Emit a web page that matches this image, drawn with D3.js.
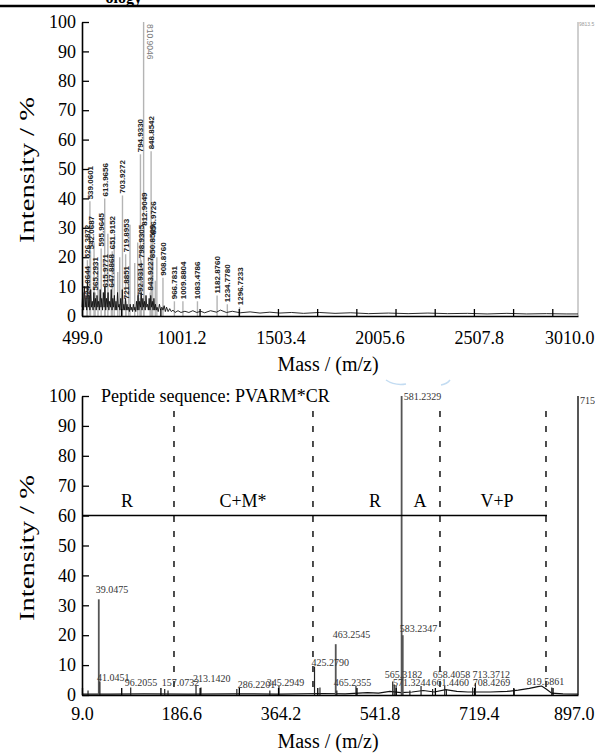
<!DOCTYPE html>
<html>
<head>
<meta charset="utf-8">
<script src="https://cdn.jsdelivr.net/npm/d3@7"></script>
<style>
body { margin: 0; background: #fff; }
svg { display: block; }
</style>
</head>
<body>
<svg id="chart" width="595" height="755"></svg>
<script>
// ---------- data ----------
const yTicks = [0, 10, 20, 30, 40, 50, 60, 70, 80, 90, 100];

// top: MS spectrum
const topTicks = [499.0, 1001.2, 1503.4, 2005.6, 2507.8, 3010.0];
const topCount = "9813.5";
// labelled peaks [m/z, intensity %]
const topLabeled = [
  [524.0644, 5], [526.3872, 19], [539.0601, 39], [542.0687, 22], [565.2931, 8],
  [595.9645, 23], [613.9656, 40], [615.9771, 9], [647.8868, 9], [651.9152, 22],
  [703.9272, 41], [719.8953, 21], [721.8851, 5], [792.9314, 6], [794.9330, 55],
  [798.9305, 19], [810.9046, 100], [812.9049, 30], [843.9227, 8], [848.8542, 56],
  [850.8509, 19], [856.9726, 27], [908.8760, 13], [966.7831, 5], [1009.8804, 5],
  [1083.4786, 5], [1182.8760, 7], [1234.7780, 4], [1296.7233, 3]
];
// unlabelled grey peaks
const topOther = [
  [560, 25], [580, 18], [630, 28], [662, 26], [680, 15], [690, 20],
  [735, 14], [741.9, 31], [766, 18], [781, 25], [870, 12], [878, 20]
];
// dark chemical-noise trace near the baseline
const topNoise = [
  [499, 3], [503, 8], [507, 2], [511, 10], [515, 3], [519, 6], [523, 2], [527, 12], [531, 3],
  [535, 7], [539, 2], [543, 9], [547, 3], [551, 5], [555, 2], [559, 8], [563, 3], [567, 6],
  [571, 2], [575, 7], [579, 3], [583, 5], [587, 2], [591, 9], [595, 3], [599, 6], [603, 2],
  [607, 8], [611, 3], [615, 10], [619, 2], [623, 6], [627, 3], [631, 8], [635, 2], [639, 5],
  [643, 3], [647, 9], [651, 2], [655, 6], [659, 3], [663, 7], [667, 2], [671, 5], [675, 2],
  [679, 8], [683, 3], [687, 4], [691, 2], [695, 6], [699, 2], [703, 9], [707, 2], [711, 4],
  [715, 2], [719, 6], [723, 2], [727, 4], [731, 2], [735, 3], [739, 1.5], [743, 4], [747, 2],
  [751, 3], [755, 1.5], [759, 4], [763, 2], [767, 3], [771, 1.5], [775, 5], [779, 2], [783, 7],
  [787, 2], [791, 5], [795, 3], [799, 8], [803, 2], [807, 6], [811, 3], [815, 5], [819, 2],
  [823, 7], [827, 3], [831, 4], [835, 2], [839, 6], [843, 2], [847, 7], [851, 3], [855, 5],
  [859, 2], [863, 6], [867, 2], [871, 4], [875, 2], [879, 3], [885, 1.5], [891, 4], [897, 2],
  [903, 3], [909, 2], [915, 3.5], [921, 1.5], [927, 3], [935, 1.5], [943, 2.5], [951, 1.5],
  [960, 2], [970, 1.2], [985, 1.8], [1000, 1.2], [1020, 1.6], [1040, 1.2], [1060, 1.8],
  [1080, 1.2], [1100, 1.6], [1120, 1.1], [1150, 1.8], [1180, 1.3], [1200, 2], [1230, 1.2],
  [1260, 1.6], [1300, 1.1], [1350, 1.4], [1400, 1.0], [1450, 1.3], [1500, 1.0], [1560, 1.2],
  [1620, 0.9], [1700, 1.2], [1780, 0.9], [1860, 1.1], [1950, 0.8], [2050, 1.0], [2150, 0.8],
  [2250, 1.0], [2350, 0.8], [2450, 0.9], [2550, 0.7], [2650, 0.9], [2750, 0.7], [2850, 0.8],
  [2950, 0.7], [3010, 0.7]
];

// bottom: MS/MS spectrum
const botTicks = [9.0, 186.6, 364.2, 541.8, 719.4, 897.0];
const botCount = "715";
const sequence = "Peptide sequence: PVARM*CR";
const botPeaks = [
  [19.8, 1.5], [39.0475, 32], [41.0451, 4.5], [96.2055, 2.5], [157.0732, 2], [163, 1.5],
  [213.1420, 3], [222, 2.5], [286.2201, 2], [345.2949, 1.5], [361.6, 3], [425.2790, 9.5],
  [435, 2.5], [463.2545, 17], [465.2355, 1.5], [499.5, 3], [565.3182, 4.5], [568, 3.5],
  [571.3244, 3], [581.2329, 100], [583.2347, 20], [596, 1.5], [616, 3], [636.7, 2],
  [658.4058, 3], [661.4460, 2], [708.4269, 2.5], [713.3712, 4], [782.7, 2], [850, 2.5]
];
// [m/z, height of the label baseline in %]
const botLabels = [
  [39.0475, 34], [41.0451, 4.8], [96.2055, 3], [157.0732, 3], [213.1420, 4.3],
  [286.2201, 2.3], [345.2949, 3], [425.2790, 9.7], [463.2545, 19], [465.2355, 3],
  [565.3182, 5.7], [571.3244, 3], [581.2329, 98.7], [583.2347, 21], [658.4058, 5.7],
  [661.4460, 3], [708.4269, 3], [713.3712, 5.7], [819.5861, 3.3]
];
const botBaseline = [
  [9, 0.3], [60, 0.3], [120, 0.4], [200, 0.3], [280, 0.4], [360, 0.3], [440, 0.5], [480, 0.4],
  [520, 0.8], [540, 0.6], [560, 1.2], [580, 0.8], [600, 1.0], [620, 1.5], [640, 1.0],
  [660, 1.8], [680, 1.2], [700, 1.0], [740, 1.0], [770, 1.2], [790, 1.6], [810, 2.2],
  [825, 2.8], [832, 3.0], [840, 2.0], [850, 0.6], [870, 0.4], [897, 0.3]
];
const cutSites = [173.7, 422.5, 649.9, 839.7];
const residues = ["R", "C+M*", "R", "A", "V+P"];
const residueAt = [89.6, 297.2, 533.5, 614, 752];

// ---------- drawing ----------
const SERIF = '"Liberation Serif","Times New Roman",serif';
const SANS = '"Liberation Sans",Arial,sans-serif';
const svg = d3.select("#chart");

// journal header remnant
svg.append("text").attr("x", 142).attr("y", 3).attr("text-anchor", "end")
  .attr("font-family", SERIF).attr("font-weight", "bold").attr("font-size", 16).text("ology");
svg.append("line").attr("x1", 0).attr("x2", 595).attr("y1", 6).attr("y2", 6)
  .attr("stroke", "#000").attr("stroke-width", 2.5);

function axes(x, y, tickVals, minorVals, labelPad, titleY, titleMid) {
  const y0 = y.range()[0];
  const left = x.range()[0];

  const ya = svg.append("g").attr("transform", `translate(${left},0)`)
    .call(d3.axisLeft(y).tickValues(yTicks).tickSizeInner(-7).tickSizeOuter(0).tickPadding(6));
  const xa = svg.append("g").attr("transform", `translate(0,${y0})`)
    .call(d3.axisBottom(x).tickValues(tickVals).tickFormat(d3.format(".1f"))
      .tickSize(0).tickPadding(labelPad));
  const xm = svg.append("g").attr("transform", `translate(0,${y0})`)
    .call(d3.axisBottom(x).tickValues(minorVals).tickFormat("").tickSizeInner(-7).tickSizeOuter(0))
    .call(g => g.select(".domain").remove());

  [ya, xa, xm].forEach(g => {
    g.attr("font-family", SERIF).attr("font-size", 18);
    g.selectAll("text").attr("fill", "#000");
    g.selectAll("line").attr("stroke", "#000").attr("stroke-width", 1.3);
    g.select(".domain").attr("stroke", "#000").attr("stroke-width", 1.6);
  });
  // last label sits flush with the page edge
  xa.selectAll(".tick").filter((d, i, n) => i === n.length - 1).select("text")
    .attr("text-anchor", "end").attr("x", 594 - x.range()[1]);

  svg.append("text").attr("x", 328).attr("y", titleY).attr("text-anchor", "middle")
    .attr("font-family", SERIF).attr("font-size", 20).text("Mass / (m/z)");
  svg.append("text").attr("transform", `translate(34,${titleMid}) rotate(-90)`)
    .attr("text-anchor", "middle").attr("font-family", SERIF).attr("font-size", 20)
    .attr("textLength", 146).attr("lengthAdjust", "spacingAndGlyphs").text("Intensity / %");
}

// ---- top panel
const xT = d3.scaleLinear().domain([499, 3010]).range([82, 578]);
const yT = d3.scaleLinear().domain([0, 100]).range([316, 22]);

svg.append("line").attr("x1", xT(3010)).attr("x2", xT(3010)).attr("y1", yT(0)).attr("y2", yT(100))
  .attr("stroke", "#cfcfcf").attr("stroke-width", 2);

svg.append("g").selectAll("line").data(topOther.concat(topLabeled)).join("line")
  .attr("x1", d => xT(d[0])).attr("x2", d => xT(d[0]))
  .attr("y1", yT(0)).attr("y2", d => yT(d[1]))
  .attr("stroke", "#b4b4b4").attr("stroke-width", 1.4);

svg.append("path").datum(topNoise)
  .attr("d", d3.line().x(d => xT(d[0])).y(d => yT(d[1])))
  .attr("fill", "none").attr("stroke", "#111").attr("stroke-width", 0.9);

axes(xT, yT, topTicks, d3.range(499, 3000, 198.4), 15, 371, 170);

svg.append("g").selectAll("text").data(topLabeled).join("text")
  .attr("transform", d => d[1] >= 90
    ? `translate(${xT(d[0]) + 3},${yT(d[1]) + 2}) rotate(90)`
    : `translate(${xT(d[0]) + 3},${yT(d[1]) - 2}) rotate(-90)`)
  .attr("font-family", SANS).attr("font-size", d => d[1] >= 90 ? 8.5 : 8)
  .attr("font-weight", d => d[1] >= 90 ? "normal" : "bold")
  .attr("fill", d => d[1] >= 90 ? "#7a7a7a" : "#222")
  .text(d => d[0].toFixed(4));

svg.append("text").attr("x", xT(3010) + 1).attr("y", yT(100) + 4)
  .attr("font-family", SANS).attr("font-size", 5).attr("fill", "#999").text(topCount);

// ---- bottom panel
const xB = d3.scaleLinear().domain([9, 897]).range([82, 578]);
const yB = d3.scaleLinear().domain([0, 100]).range([695, 396]);

svg.append("line").attr("x1", xB(897)).attr("x2", xB(897)).attr("y1", yB(0)).attr("y2", yB(100))
  .attr("stroke", "#444").attr("stroke-width", 1.8);

svg.append("path").datum(botBaseline)
  .attr("d", d3.line().x(d => xB(d[0])).y(d => yB(d[1])))
  .attr("fill", "none").attr("stroke", "#111").attr("stroke-width", 1.2);

svg.append("g").selectAll("line").data(botPeaks).join("line")
  .attr("x1", d => xB(d[0])).attr("x2", d => xB(d[0]))
  .attr("y1", yB(0)).attr("y2", d => yB(d[1]))
  .attr("stroke", d => d[1] >= 15 ? "#555" : "#222")
  .attr("stroke-width", d => d[1] >= 15 ? 1.8 : 1.2);

svg.append("g").selectAll("line").data(cutSites).join("line")
  .attr("x1", d => xB(d)).attr("x2", d => xB(d))
  .attr("y1", yB(95)).attr("y2", yB(1))
  .attr("stroke", "#222").attr("stroke-width", 1.6).attr("stroke-dasharray", "6,9");

svg.append("line").attr("x1", xB(9)).attr("x2", xB(cutSites[cutSites.length - 1]) + 1)
  .attr("y1", yB(60)).attr("y2", yB(60)).attr("stroke", "#000").attr("stroke-width", 1.5);

svg.append("g").selectAll("text").data(residues).join("text")
  .attr("x", (d, i) => xB(residueAt[i])).attr("y", yB(63))
  .attr("text-anchor", "middle").attr("font-family", SERIF).attr("font-size", 18)
  .text(d => d);

svg.append("text").attr("x", xB(9) + 19).attr("y", yB(98))
  .attr("font-family", SERIF).attr("font-size", 18).text(sequence);

axes(xB, yB, botTicks, d3.range(9, 890, 70.2), 12, 748, 548);

const labelShift = { 658.4058: -9, 565.3182: -5, 819.5861: -5, 96.2055: -3, 286.2201: 4,
  661.4460: -12, 708.4269: 3 };
svg.append("g").selectAll("text").data(botLabels).join("text")
  .attr("x", d => xB(d[0]) + (d[1] > 90 ? 2 : -3) + (labelShift[d[0]] || 0))
  .attr("y", d => yB(d[1]))
  .attr("font-family", SERIF).attr("font-size", 10).attr("fill", "#333")
  .text(d => d[0].toFixed(4));

svg.append("text").attr("x", xB(897) + 2).attr("y", yB(100) + 8)
  .attr("font-family", SERIF).attr("font-size", 10).attr("fill", "#333").text(botCount);

// faint blue scan artefact
svg.append("path").attr("d", "M386,380 Q395,386 406,384 M441,385 Q447,384 450,380")
  .attr("fill", "none").attr("stroke", "#c3dcf2").attr("stroke-width", 1.5);
</script>
</body>
</html>
